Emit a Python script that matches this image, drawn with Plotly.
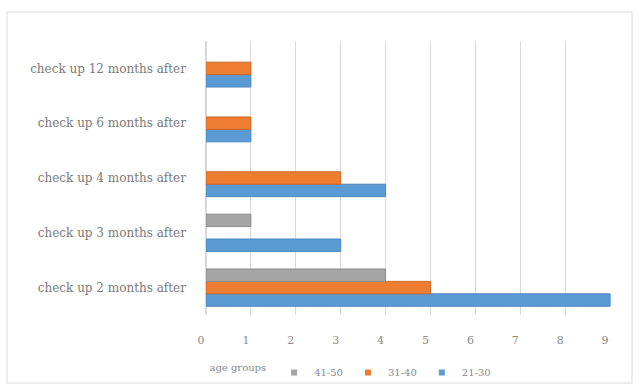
import plotly.graph_objects as go

categories = ["check up 2 months after", "check up 3 months after", "check up 4 months after",
              "check up 6 months after", "check up 12 months after"]
series_names = ["21-30", "31-40", "41-50"]
v_21_30 = [9, 3, 4, 1, 1]
v_31_40 = [5, 0, 3, 1, 1]
v_41_50 = [4, 1, 0, 0, 0]
tick_vals = list(range(0, 10))
colors = {"21-30": "#5B9BD5", "31-40": "#ED7D31", "41-50": "#A5A5A5"}
lines = {"21-30": "#4A86BE", "31-40": "#C9682A", "41-50": "#8C8C8C"}

W, H = 639, 390
L, R, T, B = 206, 28, 41, 75
pw, ph = W - L - R, H - T - B
FONT = "DejaVu Serif"

fig = go.Figure()
for name, vals in zip(series_names, [v_21_30, v_31_40, v_41_50]):
    fig.add_trace(go.Bar(
        y=categories, x=[v if v else None for v in vals], name=name, orientation="h",
        marker=dict(color=colors[name], line=dict(color=lines[name], width=1)),
        showlegend=False,
    ))
# legend entries (small square keys, as in the reference)
for name in series_names:
    fig.add_trace(go.Scatter(
        x=[None], y=[None], mode="markers", name=name,
        marker=dict(symbol="square", size=6, color=colors[name]),
        showlegend=True,
    ))

fig.update_layout(
    width=W, height=H,
    margin=dict(l=L, r=R, t=T, b=B, autoexpand=False),
    barmode="group", bargap=0.32, bargroupgap=0,
    plot_bgcolor="white", paper_bgcolor="white",
    font=dict(family=FONT, color="#7f7f7f", size=11),
    xaxis=dict(range=[0, 9.02], tickvals=tick_vals, showgrid=True, gridcolor="#D9D9D9",
               gridwidth=1, zeroline=True, zerolinecolor="#D9D9D9", ticks="",
               ticklabelstandoff=17, ticklabelshift=-5,
               tickfont=dict(family=FONT, size=11, color="#8a8a8a"), fixedrange=True),
    yaxis=dict(categoryorder="array", categoryarray=categories, showgrid=False,
               ticks="", ticklen=0, tickfont=dict(family=FONT, size=12, color="#7a7a7a"),
               ticksuffix="     ", fixedrange=True),
    legend=dict(orientation="h", x=(352 - L) / pw, xanchor="center",
                y=-(358 - (H - B)) / ph, yanchor="top",
                bgcolor="rgba(0,0,0,0)",
                traceorder="reversed",
                title=dict(text="age groups", font=dict(family=FONT, size=10, color="#8a8a8a")),
                font=dict(family=FONT, size=10, color="#8a8a8a"), itemwidth=30,
                tracegroupgap=0),
    showlegend=True,
)

# chart border
fig.add_shape(type="rect", xref="paper", yref="paper",
              x0=(7 - L) / pw, x1=(632 - L) / pw,
              y0=1 - (383 - T) / ph, y1=1 - (12 - T) / ph,
              line=dict(color="#D9D9D9", width=1), layer="below")

fig.write_html("out.html")
